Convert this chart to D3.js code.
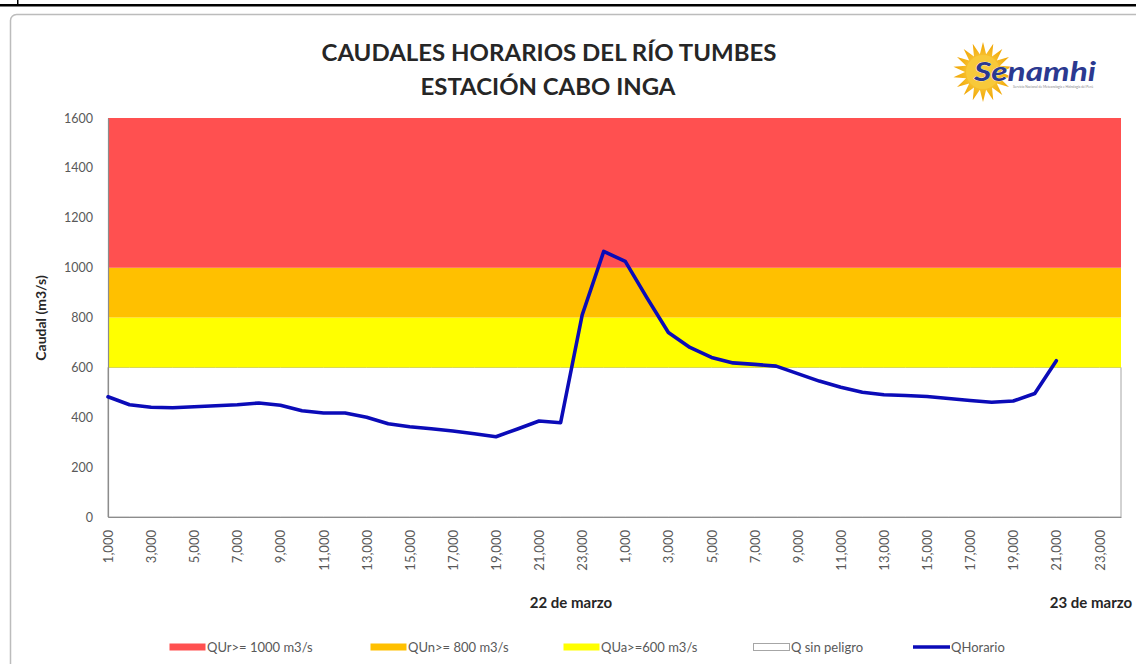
<!DOCTYPE html>
<html>
<head>
<meta charset="utf-8">
<script src="https://cdn.jsdelivr.net/npm/d3@7"></script>
<style>
  html, body { margin: 0; padding: 0; background: #fff; }
  svg { display: block; }
  text { font-family: Lato, "Open Sans", "Liberation Sans", sans-serif; }
</style>
</head>
<body>
<svg id="chart" width="1136" height="664"></svg>
<script>
// ---------------- DATA ----------------
const titleLines = ["CAUDALES HORARIOS DEL RÍO TUMBES", "ESTACIÓN CABO INGA"];
const days = ["22 de marzo", "23 de marzo"];
const hours = [1,2,3,4,5,6,7,8,9,10,11,12,13,14,15,16,17,18,19,20,21,22,23,24];
const tickLabels = ["1,000","3,000","5,000","7,000","9,000","11,000","13,000","15,000","17,000","19,000","21,000","23,000"];
const yTicks = [0, 200, 400, 600, 800, 1000, 1200, 1400, 1600];
// stacked threshold bands (bottom to top)
const bandNames = ["Q sin peligro", "QUa>=600 m3/s", "QUn>= 800 m3/s", "QUr>= 1000 m3/s"];
const bandValues = [600, 200, 200, 600];
// hourly discharge (m3/s), 22 de marzo 01h ... 23 de marzo 21h
const qHorario = [482, 450, 440, 438, 442, 446, 450, 457, 448, 426, 417, 417,
                  400, 374, 362, 354, 345, 334, 322, 353, 385, 378, 810, 1065,
                  1025, 880, 740, 680, 640, 618, 612, 605, 575, 545, 520, 500,
                  490, 487, 483, 475, 467, 460, 465, 495, 627];
const legendOrder = ["QUr>= 1000 m3/s", "QUn>= 800 m3/s", "QUa>=600 m3/s", "Q sin peligro", "QHorario"];

// ---------------- STYLES ----------------
const bandFill = ["#ffffff", "#ffff00", "#ffc000", "#ff5050"];
const bandStroke = ["#a6a6a6", "none", "none", "none"];
const lineColor = "#0b0bb8";
const labelColor = "#595959";

// ---------------- BUILD ----------------
const categories = [];
days.forEach((d, di) => hours.forEach(h => categories.push({day: di, hour: h})));
const idx = d3.range(categories.length);

const svg = d3.select("#chart");

// page artefacts
svg.append("rect").attr("x", 0).attr("y", 4).attr("width", 1136).attr("height", 2.5).attr("fill", "#000");
svg.append("rect").attr("x", 17).attr("y", 0).attr("width", 1.5).attr("height", 5).attr("fill", "#000");
svg.append("rect").attr("x", 10.5).attr("y", 14.5).attr("width", 1140).attr("height", 670)
  .attr("rx", 6).attr("fill", "#fff").attr("stroke", "#bcbcbc").attr("stroke-width", 1.5);

const pLeft = 108, pRight = 1121, pTop = 118, pBottom = 517;
const x = d3.scalePoint().domain(idx).range([pLeft, pRight]);
const y = d3.scaleLinear().domain([0, 1600]).range([pBottom, pTop]);

// stacked bands
const bandTable = idx.map(i => {
  const o = {i};
  bandNames.forEach((n, k) => o[n] = bandValues[k]);
  return o;
});
const stack = d3.stack().keys(bandNames)(bandTable);
const area = d3.area().x(d => x(d.data.i)).y0(d => y(d[0])).y1(d => y(d[1]));
svg.append("g").selectAll("path").data(stack).join("path")
  .attr("d", area)
  .attr("fill", (d, k) => bandFill[k])
  .attr("stroke", (d, k) => bandStroke[k])
  .attr("stroke-width", 1);

// axes
const yAxis = svg.append("g").attr("transform", `translate(${pLeft},0)`)
  .call(d3.axisLeft(y).tickValues(yTicks).tickSize(0).tickPadding(15).tickFormat(d3.format("d")));
yAxis.select(".domain").attr("stroke", "#8c8c8c").attr("stroke-width", 1.2);
yAxis.selectAll("text").attr("fill", labelColor).style("font-size", "12.5px").style("font-family", "Lato, sans-serif");

const oddIdx = idx.filter(i => categories[i].hour % 2 === 1);
const xAxis = svg.append("g").attr("transform", `translate(0,${pBottom})`)
  .call(d3.axisBottom(x).tickValues(oddIdx).tickSize(0)
    .tickFormat(i => tickLabels[(categories[i].hour - 1) / 2]));
xAxis.select(".domain").attr("stroke", "#8c8c8c").attr("stroke-width", 1.2);
xAxis.selectAll("text")
  .attr("transform", "rotate(-90)")
  .attr("x", -13).attr("y", 0).attr("dy", "0.35em")
  .attr("text-anchor", "end")
  .attr("fill", labelColor).style("font-size", "13px").style("font-family", "Lato, sans-serif");

// day labels
const dayX = [571, 1091];
svg.append("g").selectAll("text").data(days).join("text")
  .attr("x", (d, k) => dayX[k]).attr("y", 608)
  .attr("text-anchor", "middle")
  .attr("font-weight", "bold").attr("font-size", 15).attr("fill", "#262626")
  .text(d => d);

// line
const line = d3.line().x((d, i) => x(i)).y(d => y(d));
svg.append("path").datum(qHorario)
  .attr("d", line).attr("fill", "none")
  .attr("stroke", lineColor).attr("stroke-width", 3.6)
  .attr("stroke-linejoin", "round").attr("stroke-linecap", "round");

// y title
svg.append("text")
  .attr("transform", "translate(46,318) rotate(-90)")
  .attr("text-anchor", "middle").attr("font-weight", "bold").attr("font-size", 14).attr("fill", "#262626")
  .text("Caudal (m3/s)");

// title
svg.append("text").attr("x", 549).attr("y", 61).attr("text-anchor", "middle")
  .attr("font-weight", "bold").attr("font-size", 22).attr("fill", "#262626")
  .attr("textLength", 455).attr("lengthAdjust", "spacingAndGlyphs")
  .text(titleLines[0]);
svg.append("text").attr("x", 548).attr("y", 95).attr("text-anchor", "middle")
  .attr("font-weight", "bold").attr("font-size", 22).attr("fill", "#262626")
  .attr("textLength", 255).attr("lengthAdjust", "spacingAndGlyphs")
  .text(titleLines[1]);

// logo
const logo = svg.append("g").attr("transform", "translate(983,72)");
const rays = 18, rOut = 30, rIn = 18;
const pts = d3.range(rays * 2).map(k => {
  const a = k * Math.PI / rays - Math.PI / 2;
  const r = k % 2 === 0 ? rOut : rIn;
  return [r * Math.cos(a), r * Math.sin(a)];
});
const grad = svg.append("defs").append("radialGradient").attr("id", "sun");
grad.append("stop").attr("offset", "0%").attr("stop-color", "#ffe066");
grad.append("stop").attr("offset", "100%").attr("stop-color", "#f0a400");
logo.append("path").attr("d", d3.line()(pts) + "Z").attr("fill", "url(#sun)");
logo.append("circle").attr("r", 17).attr("fill", "#f8c93a");
svg.append("text").attr("x", 974).attr("y", 81)
  .attr("font-weight", "bold").attr("font-style", "italic").attr("font-size", 27)
  .attr("fill", "#2b3990").attr("stroke", "#fff").attr("stroke-width", 0.6).attr("paint-order", "stroke")
  .attr("textLength", 122).attr("lengthAdjust", "spacingAndGlyphs")
  .text("Senamhi");
svg.append("text").attr("x", 1013).attr("y", 88).attr("font-size", 3.5).attr("fill", "#8a8a8a")
  .attr("textLength", 80).attr("lengthAdjust", "spacingAndGlyphs")
  .text("Servicio Nacional de Meteorología e Hidrología del Perú");

// legend
const legendX = [169, 370, 563, 753, 913];
const legendStyle = [
  {fill: "#ff5050", stroke: "none"},
  {fill: "#ffc000", stroke: "none"},
  {fill: "#ffff00", stroke: "none"},
  {fill: "#ffffff", stroke: "#a6a6a6"},
  {line: lineColor}
];
const lg = svg.append("g").selectAll("g").data(legendOrder).join("g")
  .attr("transform", (d, k) => `translate(${legendX[k]},647)`);
lg.each(function(d, k) {
  const g = d3.select(this), s = legendStyle[k];
  if (s.line) {
    g.append("line").attr("x1", 0).attr("x2", 37).attr("y1", 0).attr("y2", 0)
      .attr("stroke", s.line).attr("stroke-width", 3.6);
  } else {
    g.append("rect").attr("x", 0.5).attr("y", -3.5).attr("width", 36).attr("height", 7)
      .attr("fill", s.fill).attr("stroke", s.stroke);
  }
  g.append("text").attr("x", 38).attr("y", 0).attr("dy", "0.35em")
    .attr("font-size", 13).attr("fill", labelColor).text(d);
});
</script>
</body>
</html>
